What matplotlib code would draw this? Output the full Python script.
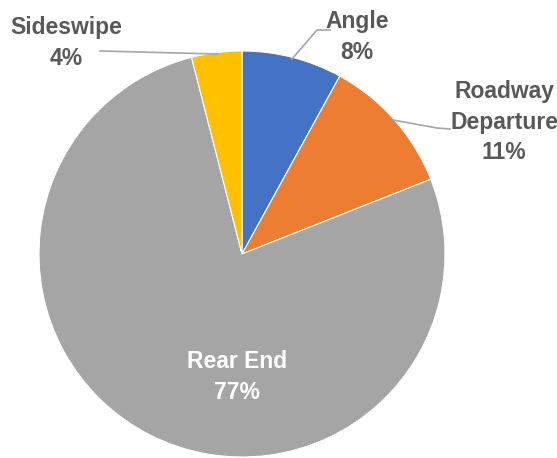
import matplotlib.pyplot as plt

# crash types and their shares (%)
labels = ['Angle', 'Roadway\nDeparture', 'Rear End', 'Sideswipe']
shares = [8, 11, 77, 4]
colors = ['#4472C4', '#ED7D31', '#A5A5A5', '#FFC000']

# label anchors and leader lines, in pixel coordinates
label_pos = [(357, 37), (504, 122), (237, 377), (66, 43)]
label_colors = ['#595959', '#595959', 'white', '#595959']
leaders = [
    [(292, 59), (317, 30), (330, 30)],
    [(393, 120), (437, 128), (450, 129)],
    None,
    [(100, 51), (218, 54)],
]

W, H = 557, 458
fig = plt.figure(figsize=(W / 100, H / 100), dpi=100)
ax = fig.add_axes([0, 0, 1, 1])

ax.pie(shares, colors=colors, startangle=90, counterclock=False,
       center=(242, -254), radius=203,
       wedgeprops=dict(edgecolor='white', linewidth=0.8))

ax.set_xlim(0, W)
ax.set_ylim(-H, 0)
ax.set_aspect('equal')
ax.axis('off')

for lab, val, (x, y), c, line in zip(labels, shares, label_pos, label_colors, leaders):
    ax.text(x, -y, f'{lab}\n{val}%', ha='center', va='center', color=c,
            fontsize=16.5, fontweight='bold', family='Liberation Sans',
            linespacing=1.4)
    if line:
        xs = [p[0] for p in line]
        ys = [-p[1] for p in line]
        ax.plot(xs, ys, color='#A6A6A6', linewidth=1.2)

fig.savefig('out.png', dpi=100)
